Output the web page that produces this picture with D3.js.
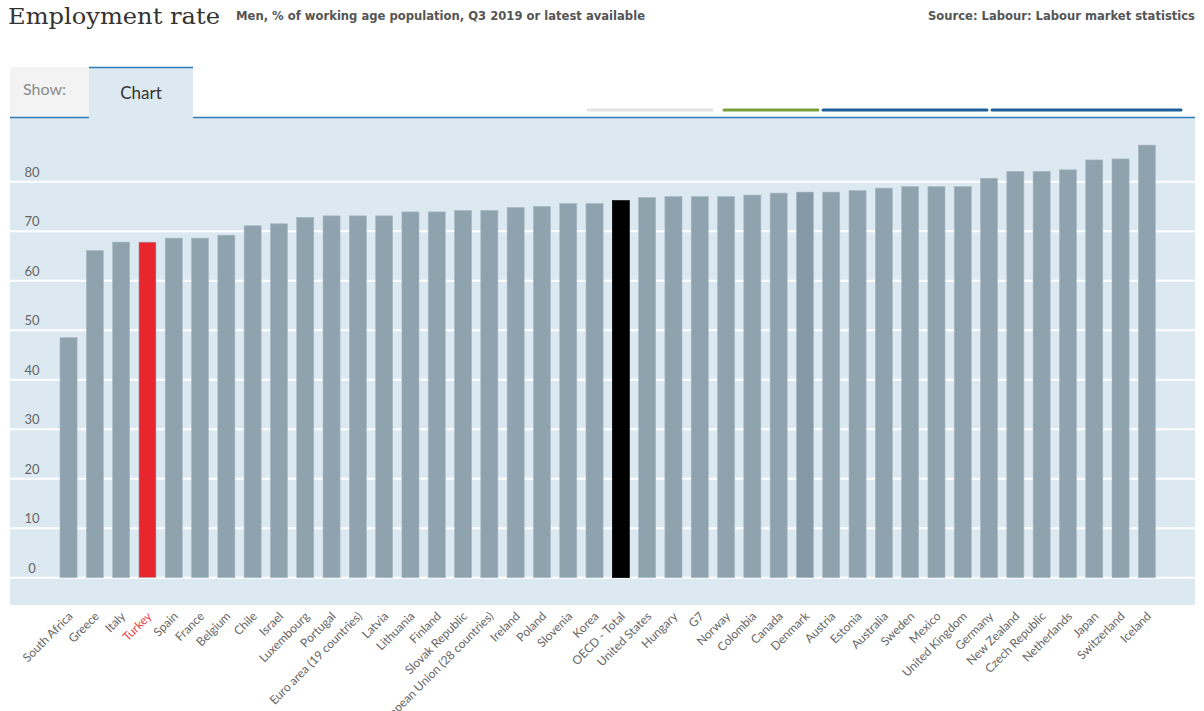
<!DOCTYPE html>
<html>
<head>
<meta charset="utf-8">
<script src="https://cdn.jsdelivr.net/npm/d3@7"></script>
<style>
  body { margin: 0; background: #fff; }
  svg { display: block; }
</style>
</head>
<body>
<div id="chart"></div>
<script>
// data
const countries = [
  "South Africa", "Greece", "Italy", "Turkey", "Spain", "France", "Belgium", "Chile",
  "Israel", "Luxembourg", "Portugal", "Euro area (19 countries)", "Latvia", "Lithuania",
  "Finland", "Slovak Republic", "European Union (28 countries)", "Ireland", "Poland",
  "Slovenia", "Korea", "OECD - Total", "United States", "Hungary", "G7", "Norway",
  "Colombia", "Canada", "Denmark", "Austria", "Estonia", "Australia", "Sweden", "Mexico",
  "United Kingdom", "Germany", "New Zealand", "Czech Republic", "Netherlands", "Japan",
  "Switzerland", "Iceland"
];
const rates = [
  48.5, 66.1, 67.8, 67.8, 68.6, 68.6, 69.2, 71.1,
  71.5, 72.8, 73.1, 73.1, 73.1, 73.9,
  73.9, 74.2, 74.2, 74.8, 75.0,
  75.6, 75.6, 76.2, 76.8, 77.0, 77.0, 77.0,
  77.3, 77.7, 77.9, 77.9, 78.2, 78.7, 79.0, 79.0,
  79.0, 80.7, 82.1, 82.1, 82.4, 84.4,
  84.6, 87.4
];
const yTicks = [0, 10, 20, 30, 40, 50, 60, 70, 80];
const tabSegments = [
  { x0: 588, x1: 712, color: "#e3e3e3" },
  { x0: 724, x1: 818, color: "#76a03a" },
  { x0: 823, x1: 987, color: "#1d5f99" },
  { x0: 992, x1: 1181, color: "#1d5f99" }
];

const data = countries.map((c, i) => ({ country: c, value: rates[i] }));

const WIDTH = 1204;
const HEIGHT = 711;
const PLOT_LEFT = 10;
const PLOT_RIGHT = 1195;
const PLOT_TOP = 118;
const PLOT_BOTTOM = 605;

const SANS = "Lato, 'Open Sans', 'DejaVu Sans', sans-serif";
const NARROW = "'Liberation Sans Narrow', 'DejaVu Sans Condensed', sans-serif";

const svg = d3.select("#chart").append("svg")
  .attr("width", WIDTH)
  .attr("height", HEIGHT);

// header
svg.append("text")
  .attr("x", 8).attr("y", 24)
  .attr("font-family", "'DejaVu Serif', 'Liberation Serif', serif")
  .attr("font-size", 22)
  .attr("fill", "#333")
  .attr("textLength", 212).attr("lengthAdjust", "spacingAndGlyphs")
  .text("Employment rate");

svg.append("text")
  .attr("x", 236).attr("y", 20)
  .attr("font-family", NARROW)
  .attr("font-weight", "bold")
  .attr("font-size", 13)
  .attr("fill", "#555")
  .attr("textLength", 409).attr("lengthAdjust", "spacingAndGlyphs")
  .text("Men, % of working age population, Q3 2019 or latest available");

svg.append("text")
  .attr("x", 1195).attr("y", 20)
  .attr("text-anchor", "end")
  .attr("font-family", NARROW)
  .attr("font-weight", "bold")
  .attr("font-size", 13)
  .attr("fill", "#555")
  .attr("textLength", 267).attr("lengthAdjust", "spacingAndGlyphs")
  .text("Source: Labour: Labour market statistics");

// tabs row
const $tabs = svg.append("g").attr("class", "tabs");
$tabs.append("rect")
  .attr("x", PLOT_LEFT).attr("y", 67)
  .attr("width", 79).attr("height", 50)
  .attr("fill", "#f3f3f3");
$tabs.append("text")
  .attr("x", 23).attr("y", 95)
  .attr("font-family", SANS).attr("font-size", 16)
  .attr("fill", "#8a8a8a")
  .text("Show:");
$tabs.append("rect")
  .attr("x", 89).attr("y", 67)
  .attr("width", 104).attr("height", 51)
  .attr("fill", "#dde9f1");
$tabs.append("line")
  .attr("x1", 89).attr("x2", 193)
  .attr("y1", 67.5).attr("y2", 67.5)
  .attr("stroke", "#2d7cb8").attr("stroke-width", 1.5);
$tabs.append("text")
  .attr("x", 141).attr("y", 99)
  .attr("text-anchor", "middle")
  .attr("font-family", SANS).attr("font-size", 17)
  .attr("fill", "#333")
  .text("Chart");

$tabs.selectAll("line.seg")
  .data(tabSegments)
  .join("line")
  .attr("class", "seg")
  .attr("x1", d => d.x0).attr("x2", d => d.x1)
  .attr("y1", 110).attr("y2", 110)
  .attr("stroke", d => d.color)
  .attr("stroke-width", 3)
  .attr("stroke-linecap", "round");

// plot background
svg.append("rect")
  .attr("x", PLOT_LEFT).attr("y", PLOT_TOP)
  .attr("width", PLOT_RIGHT - PLOT_LEFT)
  .attr("height", PLOT_BOTTOM - PLOT_TOP)
  .attr("fill", "#dde9f1");

// blue rule under the tabs
svg.append("line")
  .attr("x1", PLOT_LEFT).attr("x2", 89)
  .attr("y1", 117.5).attr("y2", 117.5)
  .attr("stroke", "#2d7cb8").attr("stroke-width", 1.5);
svg.append("line")
  .attr("x1", 193).attr("x2", PLOT_RIGHT)
  .attr("y1", 117.5).attr("y2", 117.5)
  .attr("stroke", "#2d7cb8").attr("stroke-width", 1.5);

// scales
const scaleX = d3.scaleBand()
  .domain(countries)
  .range([50.8, 1164.6])
  .paddingInner(0.35)
  .paddingOuter(0.35);

const scaleY = d3.scaleLinear()
  .domain([0, 80])
  .range([577.7, 181.7]);

// gridlines + y labels
const $axisY = svg.append("g").attr("class", "axis-y");
$axisY.selectAll("line")
  .data(yTicks)
  .join("line")
  .attr("x1", PLOT_LEFT).attr("x2", PLOT_RIGHT)
  .attr("y1", d => scaleY(d)).attr("y2", d => scaleY(d))
  .attr("stroke", "#fff").attr("stroke-width", 2);
$axisY.selectAll("text")
  .data(yTicks)
  .join("text")
  .attr("x", 32)
  .attr("y", d => scaleY(d) - 5)
  .attr("text-anchor", "middle")
  .attr("font-family", SANS).attr("font-size", 13)
  .attr("fill", "#666")
  .text(d => d);

// bars
function barColor(d) {
  if (d.country === "Turkey") return "#e8262d";
  if (d.country === "OECD - Total") return "#000";
  if (d.country === "Denmark") return "#8699a6";
  return "#8fa3af";
}

svg.append("g").attr("class", "bars")
  .selectAll("rect")
  .data(data)
  .join("rect")
  .attr("x", d => scaleX(d.country))
  .attr("y", d => scaleY(d.value))
  .attr("width", scaleX.bandwidth())
  .attr("height", d => scaleY(0) - scaleY(d.value))
  .attr("fill", barColor)
  .attr("stroke", d => d.country === "OECD - Total" ? "#000" : "#a8b9c4")
  .attr("stroke-width", 0.6);

// x labels, rotated
svg.append("g").attr("class", "axis-x")
  .selectAll("text")
  .data(data)
  .join("text")
  .attr("transform", d => `translate(${scaleX(d.country) + scaleX.bandwidth() / 2 + 5}, 617) rotate(-45)`)
  .attr("text-anchor", "end")
  .attr("font-family", SANS).attr("font-size", 12)
  .attr("fill", d => d.country === "Turkey" ? "#e8434a" : "#666")
  .text(d => d.country);
</script>
</body>
</html>
